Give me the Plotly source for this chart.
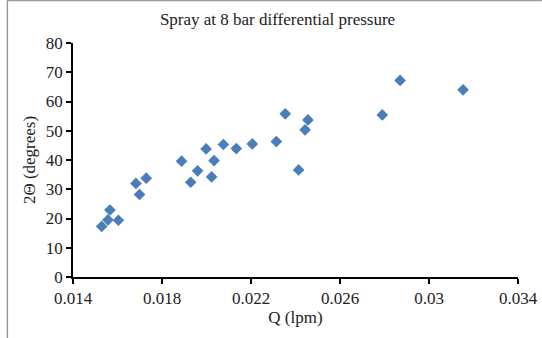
import plotly.graph_objects as go

q_lpm = [0.01529, 0.01557, 0.01566, 0.01604, 0.01683, 0.01699, 0.01729,
         0.01888, 0.01929, 0.01960, 0.01998, 0.02023, 0.02034, 0.02076,
         0.02134, 0.02206, 0.02314, 0.02354, 0.02414, 0.02443, 0.02456,
         0.02790, 0.02870, 0.03153]
theta_deg = [17.3, 19.5, 22.9, 19.4, 32.0, 28.2, 33.8,
             39.6, 32.4, 36.3, 43.8, 34.2, 39.8, 45.3,
             43.9, 45.5, 46.3, 55.8, 36.6, 50.3, 53.7,
             55.4, 67.2, 64.0]
x_ticks = [0.014, 0.018, 0.022, 0.026, 0.03, 0.034]
x_tick_labels = ["0.014", "0.018", "0.022", "0.026", "0.03", "0.034"]
y_ticks = [0, 10, 20, 30, 40, 50, 60, 70, 80]

W, H = 542, 338
ML, MR, MT, MB = 72.7, 24, 43.3, 61.3
font = "Liberation Serif, Times New Roman, serif"
FS = 17

fig = go.Figure()
fig.add_trace(go.Scatter(
    x=q_lpm, y=theta_deg, mode="markers",
    marker=dict(symbol="diamond", size=9, color="#4a7ebb", line=dict(width=0)),
    showlegend=False,
))

# outer gray frame (left & top edges visible)
fig.add_shape(type="line", xref="paper", yref="paper",
              x0=-(ML - 7) / (W - ML - MR), x1=-(ML - 7) / (W - ML - MR),
              y0=-MB / (H - MT - MB), y1=1 + (MT - 1) / (H - MT - MB),
              line=dict(color="#999999", width=1.5), layer="below")
fig.add_shape(type="line", xref="paper", yref="paper",
              x0=-(ML - 7) / (W - ML - MR), x1=1 + MR / (W - ML - MR),
              y0=1 + (MT - 1) / (H - MT - MB), y1=1 + (MT - 1) / (H - MT - MB),
              line=dict(color="#999999", width=1.5), layer="below")

fig.update_layout(
    width=W, height=H, autosize=False,
    margin=dict(l=ML, r=MR, t=MT, b=MB, autoexpand=False),
    paper_bgcolor="white", plot_bgcolor="white",
    font=dict(family=font, size=FS, color="#222222"),
    title=dict(text="Spray at 8 bar differential pressure", x=277.5 / W, xanchor="center",
               y=1 - 19 / H, yanchor="middle", font=dict(size=FS, family=font, color="#222222")),
    xaxis=dict(range=[0.014, 0.034], tickvals=x_ticks, ticktext=x_tick_labels,
               showgrid=False, zeroline=False, showline=True, linecolor="black", linewidth=1.5,
               ticks="outside", ticklen=5, tickwidth=1.5, tickcolor="black",
               title=dict(text="Q (lpm)", standoff=4, font=dict(size=FS, family=font)),
               tickfont=dict(size=FS, family=font)),
    yaxis=dict(range=[0, 80], tickvals=y_ticks,
               showgrid=False, zeroline=False, showline=True, linecolor="black", linewidth=1.5,
               ticks="outside", ticklen=5, tickwidth=1.5, tickcolor="black",
               title=dict(text="2Θ (degrees)", standoff=6, font=dict(size=FS, family=font)),
               tickfont=dict(size=FS, family=font)),
)

fig.write_html("out.html")
